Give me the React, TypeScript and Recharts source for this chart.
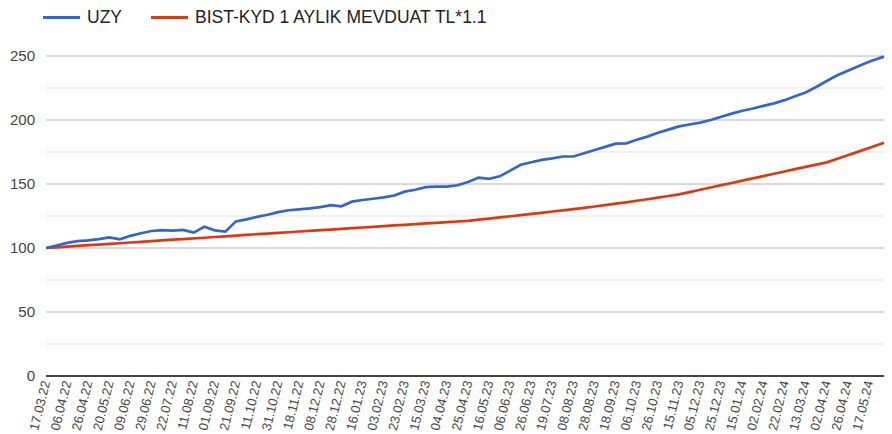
import { LineChart, Line, XAxis, YAxis, CartesianGrid, ReferenceLine } from 'recharts';

// x-axis labels, one every 14 trading days
const tickDates = [
  '17.03.22', '06.04.22', '26.04.22', '20.05.22', '09.06.22', '29.06.22', '22.07.22', '11.08.22',
  '01.09.22', '21.09.22', '11.10.22', '31.10.22', '18.11.22', '08.12.22', '28.12.22', '16.01.23',
  '03.02.23', '23.02.23', '15.03.23', '04.04.23', '25.04.23', '16.05.23', '06.06.23', '26.06.23',
  '19.07.23', '08.08.23', '28.08.23', '18.09.23', '06.10.23', '26.10.23', '15.11.23', '05.12.23',
  '25.12.23', '15.01.24', '02.02.24', '22.02.24', '13.03.24', '02.04.24', '26.04.24', '17.05.24',
];

// sampled every 7 trading days, last value is the final day on the chart
const uzy = [
  100, 102, 104, 105.3, 106, 107, 108.3, 106.8, 109.5, 111.5,
  113.3, 114, 113.5, 114.2, 112, 116.6, 113.8, 112.8, 120.8, 122.4,
  124.3, 126, 128, 129.5, 130.2, 131, 132, 133.5, 132.6, 136.2,
  137.5, 138.5, 139.5, 141, 144, 145.5, 147.5, 148, 148, 149,
  151.5, 155, 154, 156, 160.5, 165, 167, 168.8, 170, 171.5,
  171.5, 174, 176.5, 179, 181.5, 181.8, 184.5, 187, 190, 192.5,
  195, 196.5, 198, 200, 202.5, 205, 207.2, 209, 211, 213,
  215.5, 218.5, 221.5, 225.8, 230.5, 235, 238.5, 242, 245.5, 249.5,
];

const deposit = [
  100, 100.5, 101.1, 101.6, 102.2, 102.7, 103.2, 103.7, 104.3, 104.8,
  105.4, 105.9, 106.5, 107, 107.5, 108, 108.6, 109.1, 109.7, 110.2,
  110.8, 111.3, 111.8, 112.3, 112.9, 113.4, 113.9, 114.4, 115, 115.5,
  116, 116.5, 117.1, 117.6, 118.1, 118.6, 119.2, 119.7, 120.2, 120.7,
  121.2, 122.1, 123, 123.9, 124.8, 125.7, 126.6, 127.5, 128.5, 129.4,
  130.4, 131.4, 132.4, 133.5, 134.6, 135.7, 136.9, 138.1, 139.4, 140.6,
  141.9, 143.7, 145.5, 147.3, 149.1, 150.8, 152.6, 154.4, 156.2, 158,
  159.8, 161.6, 163.4, 165.1, 166.9, 169.7, 172.5, 175.3, 178.2, 182.3,
];

const yTicks = [0, 50, 100, 150, 200, 250];
const LAST_DAY = 556;

const tickDays = tickDates.map((_, i) => i * 14);
const data = uzy.map((v, j) => ({
  day: j === uzy.length - 1 ? LAST_DAY : j * 7,
  uzy: v,
  dep: deposit[j],
}));

const FONT = '"Liberation Sans", Arial, sans-serif';

const DateTick = ({ x, y, payload }: any) => {
  const label = tickDates[Math.round(payload.value / 14)];
  return (
    <text
      x={x}
      y={y}
      transform={`rotate(-76, ${x}, ${y})`}
      textAnchor="end"
      dominantBaseline="central"
      fontSize={13}
      fontFamily={FONT}
      fill="#444"
    >
      {label}
    </text>
  );
};

const LegendItem = ({ color, label, left }: { color: string; label: string; left: number }) => (
  <div style={{ position: 'absolute', left, top: 6, display: 'flex', alignItems: 'center' }}>
    <div style={{ width: 37, height: 3, background: color, marginRight: 7 }} />
    <span style={{ fontSize: 17.5, color: '#222', fontFamily: FONT, lineHeight: '22px' }}>{label}</span>
  </div>
);

export default function App() {
  return (
    <div style={{ position: 'relative', width: 892, height: 434, background: '#fff' }}>
      <style>{'body{margin:0}'}</style>
      <LegendItem color="#3366cc" label="UZY" left={43} />
      <LegendItem color="#dc3912" label="BIST-KYD 1 AYLIK MEVDUAT TL*1.1" left={151} />
      <LineChart width={892} height={434} data={data} margin={{ top: 56, right: 8, bottom: 0, left: 0 }}>
        <CartesianGrid vertical={false} horizontalValues={[25, 75, 125, 175, 225]} stroke="#ebebeb" strokeWidth={1.5} />
        <CartesianGrid vertical={false} horizontalValues={[50, 100, 150, 200, 250]} stroke="#cccccc" strokeWidth={1.5} />
        <XAxis
          dataKey="day"
          type="number"
          domain={[0, LAST_DAY]}
          ticks={tickDays}
          interval={0}
          tick={<DateTick />}
          tickLine={false}
          tickSize={0}
          tickMargin={5}
          axisLine={false}
          height={58}
        />
        <YAxis
          domain={[0, 250]}
          ticks={yTicks}
          width={46}
          tickLine={false}
          axisLine={false}
          tickSize={0}
          tickMargin={11}
          tick={{ fontSize: 15, fill: '#444', fontFamily: FONT }}
        />
        <ReferenceLine y={0} stroke="#444" strokeWidth={2} />
        <Line type="linear" dataKey="dep" stroke="#dc3912" strokeWidth={2.7} dot={false} isAnimationActive={false} />
        <Line type="linear" dataKey="uzy" stroke="#3366cc" strokeWidth={2.7} dot={false} isAnimationActive={false} />
      </LineChart>
    </div>
  );
}
